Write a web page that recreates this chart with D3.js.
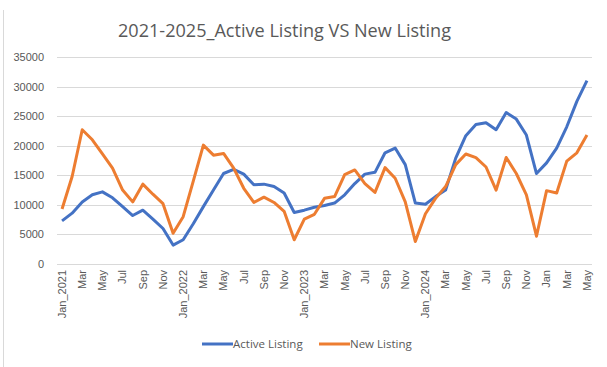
<!DOCTYPE html>
<html>
<head>
<meta charset="utf-8">
<script src="https://cdn.jsdelivr.net/npm/d3@7"></script>
<style>
  body { margin: 0; background: #fff; }
  svg { display: block; font-family: "Open Sans", "Noto Sans", sans-serif; }
</style>
</head>
<body>
<div id="chart"></div>
<script>
var width = 607;
var height = 367;

// months Jan 2021 .. May 2025
var months = ["Jan_2021", "Feb", "Mar", "Apr", "May", "Jun", "Jul", "Aug", "Sep", "Oct", "Nov", "Dec",
    "Jan_2022", "Feb", "Mar", "Apr", "May", "Jun", "Jul", "Aug", "Sep", "Oct", "Nov", "Dec",
    "Jan_2023", "Feb", "Mar", "Apr", "May", "Jun", "Jul", "Aug", "Sep", "Oct", "Nov", "Dec",
    "Jan_2024", "Feb", "Mar", "Apr", "May", "Jun", "Jul", "Aug", "Sep", "Oct", "Nov", "Dec",
    "Jan", "Feb", "Mar", "Apr", "May"];

var active = [7300, 8600, 10500, 11700, 12200, 11200, 9700, 8200, 9100, 7600, 6000, 3200,
    4100, 6800, 9700, 12500, 15300, 16000, 15200, 13400, 13500, 13100, 12000, 8700,
    9100, 9600, 9900, 10300, 11700, 13600, 15200, 15500, 18800, 19600, 16800, 10300,
    10100, 11400, 12500, 17900, 21700, 23600, 23900, 22700, 25600, 24500, 21800, 15300,
    17100, 19600, 23200, 27500, 31000];

var newer = [9300, 14800, 22700, 21000, 18600, 16200, 12500, 10500, 13500, 11800, 10200, 5200,
    8000, 14000, 20100, 18400, 18700, 16200, 12800, 10400, 11300, 10400, 8900, 4100,
    7600, 8400, 11100, 11400, 15100, 15900, 13600, 12100, 16300, 14500, 10500, 3800,
    8500, 11100, 13100, 16800, 18600, 18000, 16400, 12500, 18000, 15300, 11700, 4700,
    12400, 12000, 17400, 18800, 21800];

var yTicks = [0, 5000, 10000, 15000, 20000, 25000, 30000, 35000];

var series = [
    {name: "Active Listing", values: active, color: "#4472C4"},
    {name: "New Listing", values: newer, color: "#ED7D31"}
];

var svg = d3.select("#chart")
    .append("svg")
    .attr("width", width)
    .attr("height", height);

// faint chart border on the left
svg.append("line")
    .attr("x1", 3.5).attr("x2", 3.5)
    .attr("y1", 10).attr("y2", height)
    .attr("stroke", "#d9d9d9");

var x = d3.scaleBand()
    .domain(d3.range(months.length))
    .range([57, 592]);

var y = d3.scaleLinear()
    .domain([0, 35000])
    .range([264, 57]);

// gridlines
svg.append("g")
    .selectAll("line")
    .data(yTicks)
    .enter()
    .append("line")
    .attr("x1", 57)
    .attr("x2", 592)
    .attr("y1", function(d) { return Math.round(y(d)) + 0.5; })
    .attr("y2", function(d) { return Math.round(y(d)) + 0.5; })
    .attr("stroke", "#d9d9d9")
    .attr("stroke-width", 1);

// y axis labels
var yAxis = svg.append("g")
    .attr("transform", "translate(57,0)")
    .call(d3.axisLeft(y).tickValues(yTicks).tickSize(0).tickPadding(13).tickFormat(d3.format("d")));
yAxis.select(".domain").remove();
yAxis.selectAll("text")
    .attr("fill", "#595959")
    .style("font-size", "11px");

// x axis labels, every other month, rotated
var xAxis = svg.append("g")
    .attr("transform", "translate(0,264)")
    .call(d3.axisBottom(x)
        .tickValues(d3.range(0, months.length, 2))
        .tickSize(0)
        .tickFormat(function(i) { return months[i]; }));
xAxis.select(".domain").remove();
xAxis.selectAll("text")
    .attr("fill", "#595959")
    .style("font-size", "11px")
    .attr("text-anchor", "end")
    .attr("transform", "rotate(-90)")
    .attr("x", -6)
    .attr("y", 0)
    .attr("dy", "0.35em");

var line = d3.line()
    .x(function(d, i) { return x(i) + x.bandwidth() / 2; })
    .y(function(d) { return y(d); });

svg.selectAll(".series")
    .data(series)
    .enter()
    .append("path")
    .attr("class", "series")
    .attr("fill", "none")
    .attr("stroke", function(d) { return d.color; })
    .attr("stroke-width", 3)
    .attr("stroke-linejoin", "round")
    .attr("d", function(d) { return line(d.values); });

// title
svg.append("text")
    .attr("x", 284.5)
    .attr("y", 36.5)
    .attr("text-anchor", "middle")
    .attr("fill", "#595959")
    .style("font-size", "19px")
    .attr("textLength", 333)
    .attr("lengthAdjust", "spacingAndGlyphs")
    .text("2021-2025_Active Listing VS New Listing");

// legend
var legendPos = [202, 319];
var legend = svg.selectAll(".legend")
    .data(series)
    .enter()
    .append("g")
    .attr("class", "legend")
    .attr("transform", function(d, i) { return "translate(" + legendPos[i] + ",344)"; });

legend.append("line")
    .attr("x1", 0).attr("x2", 31)
    .attr("stroke", function(d) { return d.color; })
    .attr("stroke-width", 3);

legend.append("text")
    .attr("x", 31)
    .attr("dy", "0.35em")
    .attr("fill", "#595959")
    .style("font-size", "11.5px")
    .text(function(d) { return d.name; });
</script>
</body>
</html>
